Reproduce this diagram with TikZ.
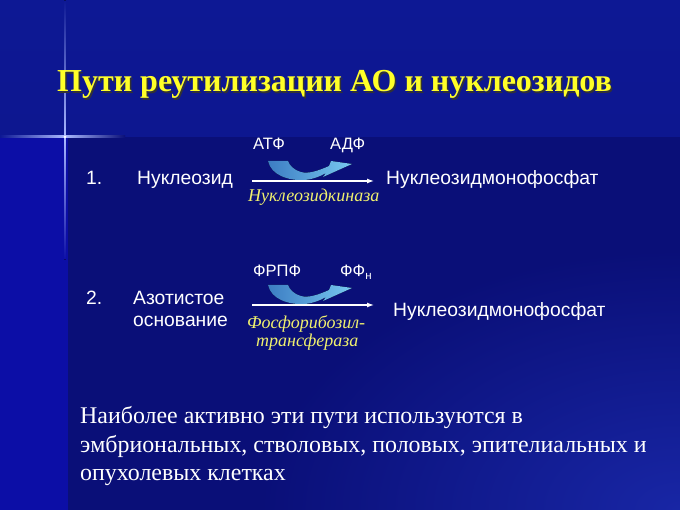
\documentclass[tikz,border=0pt]{standalone}
\usepackage{fontspec}
\setmainfont{Liberation Serif}
\newfontfamily\arialf{Liberation Sans}
\usetikzlibrary{arrows.meta}
\definecolor{bgtop}{RGB}{13,24,148}
\definecolor{bglow}{RGB}{10,15,120}
\definecolor{bgleft}{RGB}{12,14,166}
\definecolor{bgcorner}{RGB}{24,38,165}
\definecolor{titley}{RGB}{255,255,40}
\definecolor{enzy}{RGB}{240,240,110}
\definecolor{arrA}{RGB}{60,125,195}
\definecolor{arrB}{RGB}{185,235,252}
\definecolor{arrC}{RGB}{120,200,240}
\definecolor{glow}{RGB}{170,185,255}
\tikzset{
  sans/.style={font=\arialf\fontsize{19.3}{22}\selectfont, text=white, inner sep=0pt, anchor=base west},
  smalltxt/.style={font=\arialf\fontsize{16.5}{18}\selectfont, text=white, inner sep=0pt, anchor=base west},
  enz/.style={font=\itshape\fontsize{18}{20}\selectfont, text=enzy, inner sep=0pt, anchor=base west},
  body/.style={font=\fontsize{23.9}{28}\selectfont, text=white, inner sep=0pt, anchor=base west},
  titletxt/.style={font=\bfseries\fontsize{32}{38}\selectfont, inner sep=0pt, anchor=base west},
  rxn/.style={draw=white, line width=1.3pt, -{Latex[length=7pt,width=5pt]}},
  pics/curvarr/.style={code={
    \fill[left color=arrA, middle color=arrB, right color=arrC]
      (0,0) .. controls (3,14) and (20,20) .. (37,19)
      .. controls (46,18) and (53,15) .. (58,12) -- (55,16) -- (84,3) -- (63,0) -- (61,5)
      .. controls (50,10) and (40,13) .. (33,11)
      .. controls (26,9) and (22,5) .. (20,0) -- cycle;
  }}
}
\begin{document}
\begin{tikzpicture}[x=1pt,y=-1pt]
\useasboundingbox (0,0) rectangle (680,510);
% background
\fill[bglow] (0,0) rectangle (680,510);
\begin{scope}
\clip (0,0) rectangle (680,510);
\fill[inner color=bgcorner, outer color=bglow] (260,250) rectangle (1100,770);
\end{scope}
\fill[top color=bgtop, bottom color=bgtop!85!bglow] (0,0) rectangle (680,137);
\fill[bgleft] (0,137) rectangle (68,510);
% sparkle
\fill[left color=bgtop, right color=glow] (0,136) rectangle (65,138);
\fill[left color=glow, right color=bglow] (65,136) rectangle (125,138);
\fill[top color=bgtop, bottom color=glow] (64.3,0) rectangle (65.7,137);
\fill[top color=glow, bottom color=bgleft] (64.3,137) rectangle (65.7,260);
\fill[white] (65,137) circle (1.5);
% title
\node[titletxt, text=black!80] at (58.5,93.5) {Пути реутилизации АО и нуклеозидов};
\node[titletxt, text=titley] (title) at (57,92) {Пути реутилизации АО и нуклеозидов};
% row 1
\node[sans] (n1) at (86,185) {1.};
\node[sans] (nuc) at (137,185) {Нуклеозид};
\node[smalltxt] (atp) at (253,150) {АТФ};
\node[smalltxt] (adp) at (330,150) {АДФ};
\coordinate (r1s) at (252,181);
\coordinate (r1e) at (374,181);
\pic at (268,161) {curvarr};
\draw[rxn] (r1s) -- (r1e);
\node[enz] (kin) at (248,202) {Нуклеозидкиназа};
\node[sans] (nmp1) at (386,185) {Нуклеозидмонофосфат};
% row 2
\node[sans] (n2) at (86,305) {2.};
\node[sans] (base1) at (133,305) {Азотистое};
\node[sans] (base2) at (133,327) {основание};
\node[smalltxt] (prpp) at (253,277) {ФРПФ};
\node[smalltxt] (ppn) at (340,277) {ФФ\textsubscript{н}};
\coordinate (r2s) at (252,305);
\coordinate (r2e) at (374,305);
\pic at (268,285) {curvarr};
\draw[rxn] (r2s) -- (r2e);
\node[enz] (prt1) at (247,329) {Фосфорибозил-};
\node[enz] (prt2) at (256,347) {трансфераза};
\node[sans] (nmp2) at (393,317) {Нуклеозидмонофосфат};
% paragraph
\node[body] (p1) at (80,423) {Наиболее активно эти пути используются в};
\node[body] (p2) at (80,452) {эмбриональных, стволовых, половых, эпителиальных и};
\node[body] (p3) at (80,480) {опухолевых клетках};
\end{tikzpicture}
\end{document}
